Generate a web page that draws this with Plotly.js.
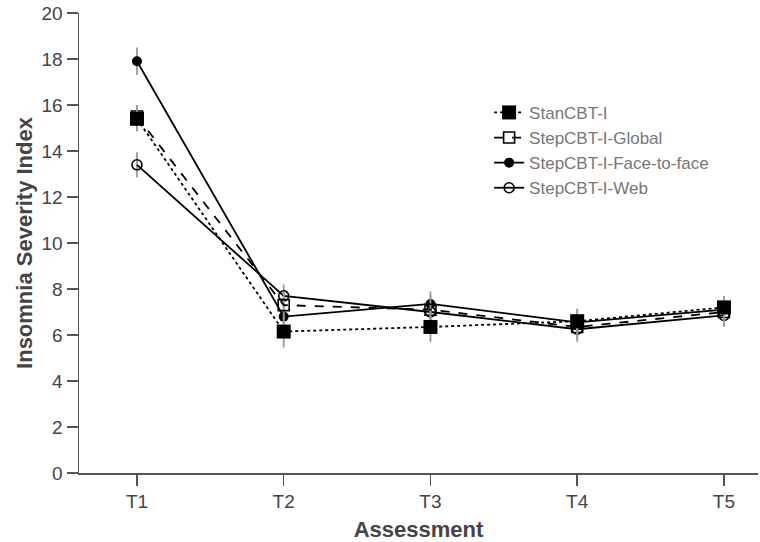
<!DOCTYPE html>
<html>
<head>
<meta charset="utf-8">
<script src="https://cdn.plot.ly/plotly-3.0.1.min.js"></script>
<style>html,body{margin:0;padding:0;background:#fff;}#chart{width:760px;height:542px;}</style>
</head>
<body>
<div id="chart"></div>
<script>
var categories = ['T1', 'T2', 'T3', 'T4', 'T5'];
var stanVals = [15.4, 6.15, 6.35, 6.6, 7.2];
var stanErr = [0.55, 0.7, 0.65, 0.55, 0.5];
var globalVals = [15.5, 7.3, 7.1, 6.35, 7.0];
var globalErr = [0.5, 0.6, 0.6, 0.55, 0.5];
var faceVals = [17.9, 6.8, 7.35, 6.55, 7.1];
var faceErr = [0.6, 0.6, 0.55, 0.55, 0.5];
var webVals = [13.4, 7.7, 7.0, 6.25, 6.85];
var webErr = [0.55, 0.5, 0.55, 0.55, 0.5];

function errCfg(arr) {
  return {type: 'data', array: arr, visible: true, color: '#9a9a9a', thickness: 1.8, width: 0};
}

var traces = [
  {x: categories, y: webVals, name: 'StepCBT-I-Web', mode: 'lines+markers', error_y: errCfg(webErr),
   line: {color: '#000', width: 1.8, dash: 'solid'},
   marker: {symbol: 'circle-open', size: 10, color: '#000', line: {width: 1.6, color: '#000'}}},
  {x: categories, y: faceVals, name: 'StepCBT-I-Face-to-face', mode: 'lines+markers', error_y: errCfg(faceErr),
   line: {color: '#000', width: 1.8, dash: 'solid'},
   marker: {symbol: 'circle', size: 10, color: '#000'}},
  {x: categories, y: globalVals, name: 'StepCBT-I-Global', mode: 'lines+markers', error_y: errCfg(globalErr),
   line: {color: '#000', width: 1.8, dash: 'dash'},
   marker: {symbol: 'square-open', size: 11, color: '#000', line: {width: 1.6, color: '#000'}}},
  {x: categories, y: stanVals, name: 'StanCBT-I', mode: 'lines+markers', error_y: errCfg(stanErr),
   line: {color: '#000', width: 1.8, dash: 'dot'},
   marker: {symbol: 'square', size: 14, color: '#000'}}
];

var layout = {
  width: 760, height: 542,
  margin: {l: 79, r: 2, t: 13, b: 69},
  paper_bgcolor: '#fff', plot_bgcolor: '#fff',
  font: {family: 'Liberation Sans, Arial, sans-serif', color: '#444'},
  showlegend: true,
  legend: {x: 0.604, y: 0.822, xanchor: 'left', yanchor: 'top', traceorder: 'reversed',
    font: {size: 17, color: '#777'}, bgcolor: 'rgba(0,0,0,0)', tracegroupgap: 0},
  xaxis: {
    type: 'category', range: [-0.395, 4.232],
    showline: true, linecolor: '#555', linewidth: 1.5,
    ticks: 'outside', ticklen: 11, tickwidth: 1.5, tickcolor: '#555',
    showgrid: false, zeroline: false,
    tickfont: {size: 19, color: '#444'},
    title: {text: '<b>Assessment</b>', font: {size: 22, color: '#444'}, standoff: 11}
  },
  yaxis: {
    range: [0, 20], tickvals: [0, 2, 4, 6, 8, 10, 12, 14, 16, 18, 20],
    showline: true, linecolor: '#555', linewidth: 1.5,
    ticks: 'outside', ticklen: 11, tickwidth: 1.5, tickcolor: '#555',
    showgrid: false, zeroline: false,
    tickfont: {size: 19, color: '#444'},
    title: {text: '<b>Insomnia Severity Index</b>', font: {size: 22, color: '#444'}, standoff: 3}
  }
};

Plotly.newPlot('chart', traces, layout, {displayModeBar: false, staticPlot: true});
</script>
</body>
</html>
